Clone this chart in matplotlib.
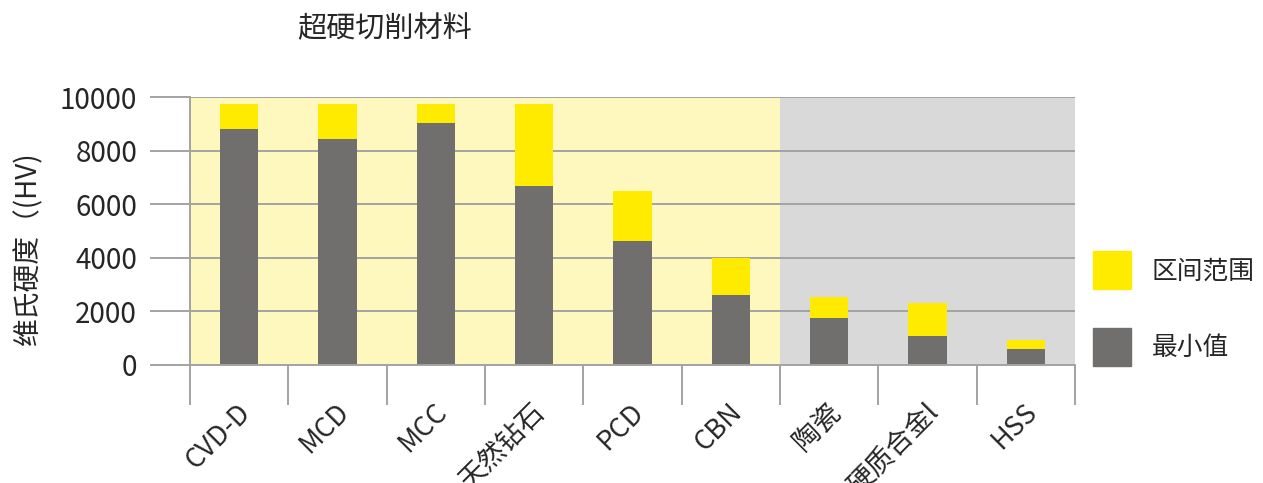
import numpy as np
import matplotlib.pyplot as plt
import matplotlib.transforms as mtransforms
from matplotlib.patches import Patch

plt.rcParams['font.family'] = ['Noto Sans CJK SC', 'DejaVu Sans']

materials = ['CVD-D', 'MCD', 'MCC', '天然钻石', 'PCD', 'CBN', '陶瓷', '硬质合金l', 'HSS']
hv_min = [8800, 8450, 9050, 6700, 4650, 2600, 1750, 1100, 600]
hv_max = [9750, 9750, 9750, 9750, 6500, 4000, 2550, 2300, 950]
n_super = 6  # first six are superhard materials

yellow = '#FFEB00'
bar_gray = '#706F6E'
grid_gray = '#A3A3A3'
txt = '#262626'

fig = plt.figure(figsize=(12.63, 4.83), dpi=100)
ax = fig.add_axes([190/1263, 1 - 365/483, 885/1263, (365 - 97.3)/483])

x = np.arange(len(materials))
span = np.array(hv_max) - np.array(hv_min)

ax.axvspan(-0.5, n_super - 0.5, color='#FEF7BE', zorder=0, lw=0)
ax.axvspan(n_super - 0.5, len(materials) - 0.5, color='#D9D9D9', zorder=0, lw=0)

ax.bar(x, hv_min, width=0.39, color=bar_gray, zorder=3)
ax.bar(x, span, bottom=hv_min, width=0.39, color=yellow, zorder=3)

ax.set_xlim(-0.5, len(materials) - 0.5)
ax.set_ylim(0, 10000)
ax.set_yticks(np.arange(0, 10001, 2000))
ax.yaxis.grid(True, color=grid_gray, lw=1.4, zorder=1)
ax.set_axisbelow(True)

for s in ['top', 'right']:
    ax.spines[s].set_visible(False)
for s in ['left', 'bottom']:
    ax.spines[s].set_color(grid_gray)
    ax.spines[s].set_linewidth(1.4)
    ax.spines[s].set_zorder(4)

ax.tick_params(axis='y', length=29, width=1.4, color=grid_gray, pad=9,
               labelsize=20, labelcolor=txt)

# labels at category centres, tick marks at category boundaries
ax.set_xticks(x)
ax.set_xticks(np.arange(-0.5, len(materials), 1.0), minor=True)
ax.tick_params(axis='x', which='major', length=0, pad=31)
ax.tick_params(axis='x', which='minor', length=29, width=1.4, color=grid_gray)
ax.set_xticklabels(materials, rotation=45, ha='right', va='center',
                   rotation_mode='anchor', fontsize=19.5, color=txt)
shift = mtransforms.ScaledTranslation(7/100, 0, fig.dpi_scale_trans)
for lbl in ax.get_xticklabels():
    lbl.set_transform(lbl.get_transform() + shift)

ax.set_ylabel('维氏硬度（(HV)', fontsize=20, color=txt, labelpad=12, y=0.435)
fig.text(385/1263, 1 - 29/483, '超硬切削材料', fontsize=21, color=txt,
         ha='center', va='center')

handles = [Patch(color=yellow, label='区间范围'), Patch(color=bar_gray, label='最小值')]
ax.legend(handles=handles, loc='upper left', bbox_to_anchor=(1093/1263, 1 - 251/483),
          bbox_transform=fig.transFigure, frameon=False, fontsize=18.5,
          handlelength=1.48, handleheight=1.9, handletextpad=0.8,
          labelspacing=1.5, borderpad=0, borderaxespad=0, labelcolor=txt)

fig.savefig('out.png', dpi=100)
